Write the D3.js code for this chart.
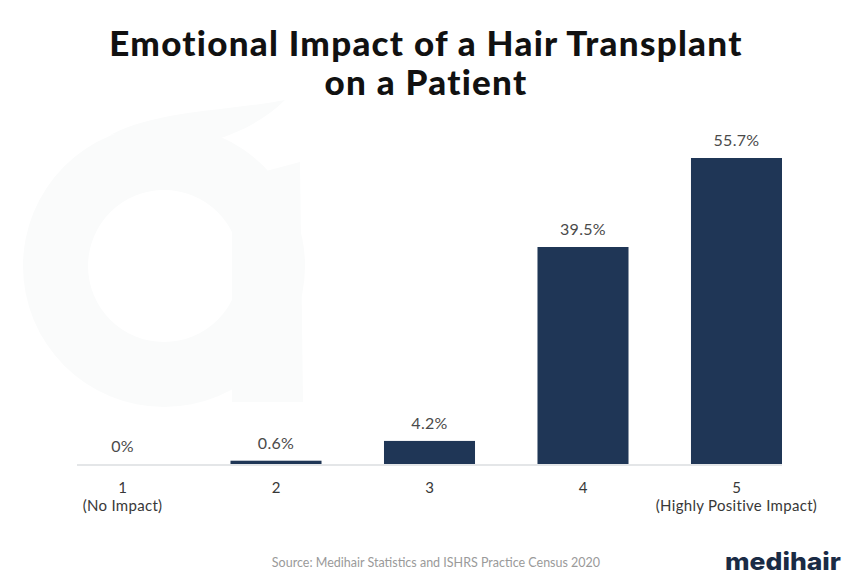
<!DOCTYPE html>
<html>
<head>
<meta charset="utf-8">
<script src="https://cdn.jsdelivr.net/npm/d3@7"></script>
<style>
  html, body { margin: 0; padding: 0; background: #fff; }
  svg { display: block; }
</style>
</head>
<body>
<svg id="chart" width="860" height="583"></svg>
<script>
// ---- data ----
const categories = ["1", "2", "3", "4", "5"];
const subLabels = ["(No Impact)", "", "", "", "(Highly Positive Impact)"];
const values = [0, 0.6, 4.2, 39.5, 55.7];
const valueLabels = ["0%", "0.6%", "4.2%", "39.5%", "55.7%"];
const titleLines = ["Emotional Impact of a Hair Transplant", "on a Patient"];
const sourceText = "Source: Medihair Statistics and ISHRS Practice Census 2020";
const brandText = "medihair";

// ---- layout ----
const W = 860, H = 583;
const baseY = 464;
const svg = d3.select("#chart");

// very faint watermark logo
const wm = svg.append("g").attr("fill", "#fafbfb");
const ring = d3.path();
ring.arc(164, 266, 141, 0, 2 * Math.PI);
ring.moveTo(164 + 76, 266);
ring.arc(164, 266, 76, 0, 2 * Math.PI);
wm.append("path").attr("d", ring.toString()).attr("fill-rule", "evenodd");
wm.append("path").attr("d", "M232,180 L300,162 L303,402 L232,402 Z");
wm.append("path").attr("d", "M110,135 C160,110 220,112 285,100 C265,120 240,132 215,140 C180,128 145,128 110,135 Z");

const x = d3.scaleBand()
  .domain(categories)
  .range([77, 782])
  .paddingInner(0.407)
  .paddingOuter(0);

const y = d3.scaleLinear()
  .domain([0, 55.7])
  .range([baseY, 158]);

// title
const titleFont = "'Lato', 'DejaVu Sans', sans-serif";
const titleYs = [56, 95];
const titles = svg.append("g").selectAll("text")
  .data(titleLines)
  .join("text")
  .attr("x", W / 2 - 4)
  .attr("y", (d, i) => titleYs[i])
  .attr("text-anchor", "middle")
  .attr("font-family", titleFont)
  .attr("font-weight", 900)
  .attr("font-size", 35)
  .attr("fill", "#111")
  .text(d => d);
const len0 = titles.nodes()[0].getComputedTextLength();
if (len0 > 0) {
  const ls = Math.max(0, Math.min(2, (634 - len0) / titleLines[0].length));
  titles.attr("letter-spacing", ls);
}

// axis baseline
svg.append("line")
  .attr("x1", x.range()[0])
  .attr("x2", x.range()[1])
  .attr("y1", baseY + 1)
  .attr("y2", baseY + 1)
  .attr("stroke", "#e4e6e8")
  .attr("stroke-width", 2);

// bars
svg.append("g").selectAll("rect")
  .data(values)
  .join("rect")
  .attr("x", (d, i) => x(categories[i]))
  .attr("y", d => y(d))
  .attr("width", x.bandwidth())
  .attr("height", d => baseY - y(d))
  .attr("fill", "#1f3656");

// value labels
const labelFont = "'Lato', 'Open Sans', sans-serif";
svg.append("g").selectAll("text")
  .data(values)
  .join("text")
  .attr("x", (d, i) => x(categories[i]) + x.bandwidth() / 2)
  .attr("y", d => y(d) - 12)
  .attr("text-anchor", "middle")
  .attr("font-family", labelFont)
  .attr("font-size", 16)
  .attr("letter-spacing", 0.3)
  .attr("fill", "#4a4a4a")
  .text((d, i) => valueLabels[i]);

// category labels
const cat = svg.append("g");
categories.forEach((c, i) => {
  const cx = x(c) + x.bandwidth() / 2;
  cat.append("text")
    .attr("x", cx)
    .attr("y", 493)
    .attr("text-anchor", "middle")
    .attr("font-family", labelFont)
    .attr("font-size", 15)
    .attr("fill", "#383838")
    .text(c);
  if (subLabels[i]) {
    cat.append("text")
      .attr("x", cx)
      .attr("y", 511)
      .attr("text-anchor", "middle")
      .attr("font-family", labelFont)
      .attr("font-size", 15)
      .attr("letter-spacing", 0.3)
      .attr("fill", "#383838")
      .text(subLabels[i]);
  }
});

// source
svg.append("text")
  .attr("x", 436)
  .attr("y", 567)
  .attr("text-anchor", "middle")
  .attr("font-family", labelFont)
  .attr("font-size", 12.5)
  .attr("fill", "#9a9a9a")
  .text(sourceText);

// brand
const brand = svg.append("text")
  .attr("x", 725)
  .attr("y", 570)
  .attr("font-family", "'Inter', 'Lato', sans-serif")
  .attr("font-weight", 800)
  .attr("font-size", 24)
  .attr("fill", "#1a2b45")
  .text(brandText);
if (brand.node().getComputedTextLength() > 0) {
  brand.attr("textLength", 116).attr("lengthAdjust", "spacingAndGlyphs");
}
</script>
</body>
</html>
